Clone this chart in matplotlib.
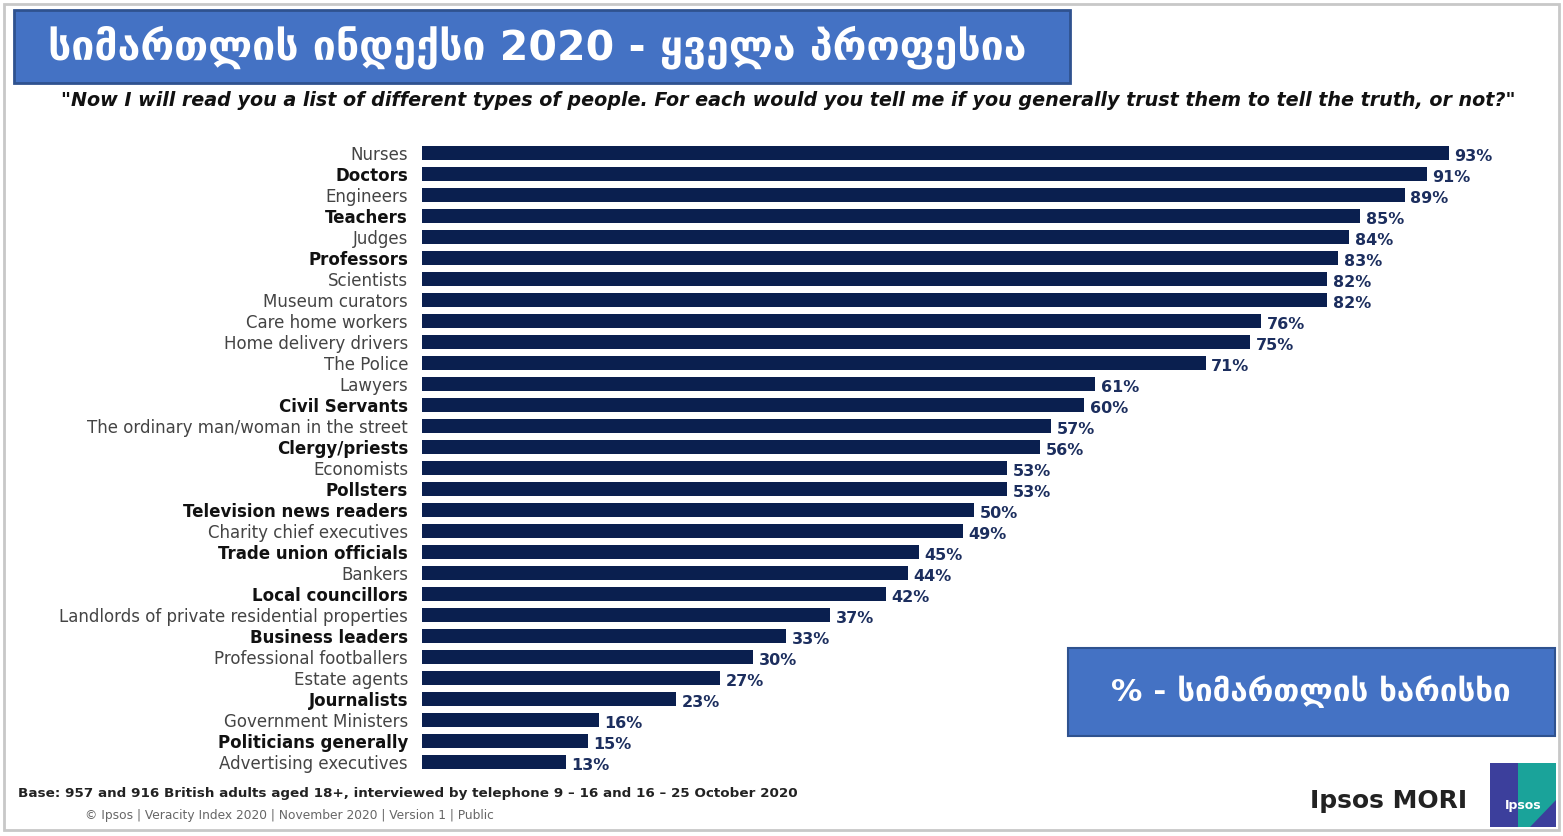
import matplotlib.pyplot as plt
from matplotlib.patches import Rectangle, Polygon

# Data: Ipsos MORI Veracity Index 2020
professions = ['Nurses', 'Doctors', 'Engineers', 'Teachers', 'Judges', 'Professors',
               'Scientists', 'Museum curators', 'Care home workers', 'Home delivery drivers',
               'The Police', 'Lawyers', 'Civil Servants',
               'The ordinary man/woman in the street', 'Clergy/priests', 'Economists',
               'Pollsters', 'Television news readers', 'Charity chief executives',
               'Trade union officials', 'Bankers', 'Local councillors',
               'Landlords of private residential properties', 'Business leaders',
               'Professional footballers', 'Estate agents', 'Journalists',
               'Government Ministers', 'Politicians generally', 'Advertising executives']
trust = [93, 91, 89, 85, 84, 83, 82, 82, 76, 75, 71, 61, 60, 57, 56, 53, 53, 50, 49,
         45, 44, 42, 37, 33, 30, 27, 23, 16, 15, 13]
bold_labels = ['Doctors', 'Teachers', 'Professors', 'Civil Servants', 'Clergy/priests',
               'Pollsters', 'Television news readers', 'Trade union officials',
               'Local councillors', 'Business leaders', 'Journalists',
               'Politicians generally']

title = 'სიმართლის ინდექსი 2020 - ყველა პროფესია'
question = ('"Now I will read you a list of different types of people. For each would you '
            'tell me if you generally trust them to tell the truth, or not?"')
note = '% - სიმართლის ხარისხი'
base = ('Base: 957 and 916 British adults aged 18+, interviewed by telephone '
        '9 – 16 and 16 – 25 October 2020')
footer = '© Ipsos | Veracity Index 2020 | November 2020 | Version 1 | Public'

W, H = 1563, 836
fig = plt.figure(figsize=(W / 100, H / 100), dpi=100)
fig.patch.set_facecolor('white')

def fx(px):
    return px / W

def fy(py):
    return 1 - py / H

# bar chart
ax = fig.add_axes([fx(422), fy(772.5), fx(1526) - fx(422), fy(142.5) - fy(772.5)])
y = list(range(len(professions)))
ax.barh(y, trust, height=0.66, color='#0a1f4f')
ax.set_xlim(0, 100)
ax.set_ylim(len(professions) - 0.5, -0.5)
ax.set_yticks(y)
ax.set_yticklabels(professions)
for lbl, name in zip(ax.get_yticklabels(), professions):
    lbl.set_fontsize(12)
    if name in bold_labels:
        lbl.set_fontweight('bold')
        lbl.set_color('#111111')
    else:
        lbl.set_color('#444444')
ax.tick_params(axis='y', length=0, pad=10)
ax.set_xticks([])
for s in ax.spines.values():
    s.set_visible(False)
for yi, v in zip(y, trust):
    ax.text(v + 0.5, yi + 0.15, f'{v}%', va='center', ha='left', fontsize=11.5,
            fontweight='bold', color='#1c2e5e')

# overlay axes for decorations in pixel coords
ov = fig.add_axes([0, 0, 1, 1], zorder=5)
ov.set_xlim(0, W)
ov.set_ylim(H, 0)
ov.axis('off')
ov.patch.set_alpha(0)

# outer frame
ov.add_patch(Rectangle((4, 4), W - 8, H - 10, fill=False, ec='#c8c8c8', lw=2))

# title box
ov.add_patch(Rectangle((14, 10), 1056, 73, fc='#4472c4', ec='#2f528f', lw=2))
ov.text(48, 47, title, color='white', fontsize=29.5, fontweight='bold',
        va='center', ha='left', family=['DejaVu Sans'])

ov.text(788, 101, question, fontsize=13.8, fontweight='bold', style='italic',
        ha='center', va='center', color='#111111')

# note box
ov.add_patch(Rectangle((1068, 648), 487, 88, fc='#4472c4', ec='#2f528f', lw=1.5))
ov.text(1311, 692, note, color='white', fontsize=22.5, fontweight='bold',
        ha='center', va='center', family=['DejaVu Sans'])

# footer
ov.text(18, 793, base, fontsize=9.7, fontweight='bold', color='#222222',
        ha='left', va='center')
ov.text(85, 816, footer, fontsize=8.8, color='#666666', ha='left', va='center')

# Ipsos MORI logo
ov.text(1467, 801, 'Ipsos MORI', fontsize=18, fontweight='bold', color='#222222',
        ha='right', va='center')
ov.add_patch(Rectangle((1490, 763), 66, 64, fc='#3c3f9c', ec='none'))
ov.add_patch(Polygon([(1518, 763), (1556, 763), (1556, 800), (1530, 827), (1518, 827)],
                     closed=True, fc='#1aa39a', ec='none'))
ov.text(1523, 806, 'Ipsos', fontsize=9, fontweight='bold', color='white',
        ha='center', va='center')

fig.savefig('out.png', dpi=100)
plt.close(fig)
